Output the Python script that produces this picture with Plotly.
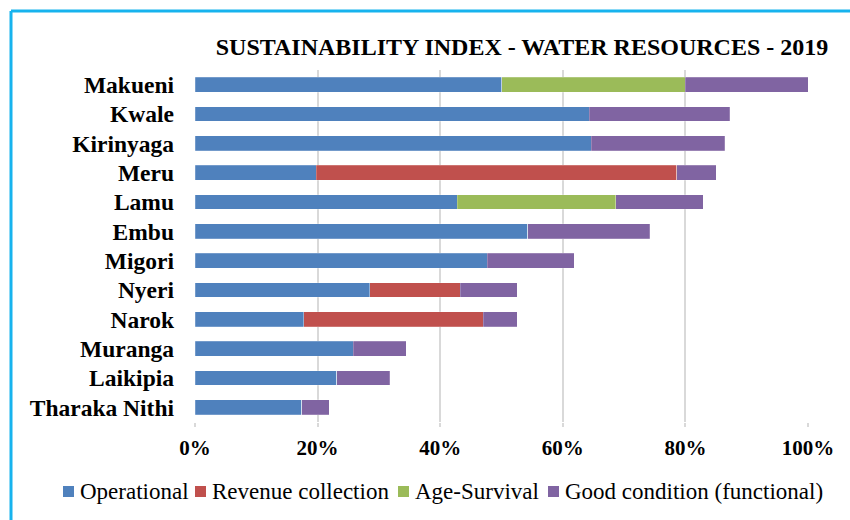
import plotly.graph_objects as go

# Counties, top to bottom
counties = ["Makueni", "Kwale", "Kirinyaga", "Meru", "Lamu", "Embu", "Migori",
            "Nyeri", "Narok", "Muranga", "Laikipia", "Tharaka Nithi"]

# Share of the sustainability index per component (%)
operational = [50.0, 64.3, 64.6, 19.8, 42.8, 54.3, 47.7, 28.5, 17.7, 25.8, 23.1, 17.4]
revenue_collection = [0, 0, 0, 58.8, 0, 0, 0, 14.8, 29.3, 0, 0, 0]
age_survival = [30.0, 0, 0, 0, 25.8, 0, 0, 0, 0, 0, 0, 0]
good_condition = [20.0, 22.9, 21.8, 6.4, 14.3, 19.9, 14.2, 9.3, 5.6, 8.7, 8.7, 4.5]

tick_vals = [0, 20, 40, 60, 80, 100]
tick_text = ["0%", "20%", "40%", "60%", "80%", "100%"]

series_names = ["Operational", "Revenue collection", "Age-Survival", "Good condition (functional)"]
series_values = [operational, revenue_collection, age_survival, good_condition]
series_colors = ["#4F81BD", "#C0504D", "#9BBB59", "#8064A2"]

serif = "Liberation Serif, Times New Roman, serif"

W, H = 850, 520
ML, MR, MT, MB = 195, 42, 70, 98
pw, ph = W - ML - MR, H - MT - MB


def px_x(p):
    return (p - ML) / pw


def px_y(p):
    return (H - MB - p) / ph


fig = go.Figure()
for name, vals, color in zip(series_names, series_values, series_colors):
    fig.add_trace(go.Bar(
        y=counties, x=vals, name=name, orientation="h", showlegend=False,
        marker=dict(color=color, line=dict(color="rgba(255,255,255,0.35)", width=0.6)),
    ))

# Legend row: colour swatch followed by its label
legend_x = [63, 195, 398, 548]
legend_y = 491
for lx, name, color in zip(legend_x, series_names, series_colors):
    fig.add_shape(type="rect", xref="paper", yref="paper",
                  x0=px_x(lx), x1=px_x(lx + 11), y0=px_y(legend_y + 6), y1=px_y(legend_y - 5),
                  fillcolor=color, line=dict(width=0))
    fig.add_annotation(xref="paper", yref="paper", x=px_x(lx + 15), y=px_y(legend_y),
                       text=name, showarrow=False, xanchor="left", yanchor="middle",
                       font=dict(family=serif, size=23, color="black"))

# Frame around the chart
frame_color = "#17B3EE"
fig.add_shape(type="line", xref="paper", yref="paper",
              x0=px_x(11), x1=px_x(852), y0=px_y(11), y1=px_y(11),
              line=dict(color=frame_color, width=3))
fig.add_shape(type="line", xref="paper", yref="paper",
              x0=px_x(11), x1=px_x(11), y0=px_y(11), y1=px_y(525),
              line=dict(color=frame_color, width=3))

fig.update_layout(
    width=W, height=H,
    margin=dict(l=ML, r=MR, t=MT, b=MB),
    paper_bgcolor="white", plot_bgcolor="white",
    barmode="stack", bargap=0.49,
    showlegend=False,
    title=dict(text="<b>SUSTAINABILITY INDEX - WATER RESOURCES - 2019</b>",
               font=dict(family=serif, size=24, color="black"),
               x=522 / W, xanchor="center", y=1 - 47 / H, yanchor="middle"),
    xaxis=dict(range=[0, 100], tickvals=tick_vals, ticktext=tick_text,
               showgrid=True, gridcolor="#D9D9D9", gridwidth=1.5,
               zeroline=False, showline=False,
               ticks="outside", ticklen=4, tickcolor="#D9D9D9", tickwidth=1.5,
               ticklabelstandoff=3,
               tickfont=dict(family=serif, size=21, color="black", weight="bold")),
    yaxis=dict(autorange="reversed", showgrid=False, showline=False,
               ticks="", ticklabelstandoff=20,
               tickfont=dict(family=serif, size=23.5, color="black", weight="bold")),
)

fig.write_html("out.html")
